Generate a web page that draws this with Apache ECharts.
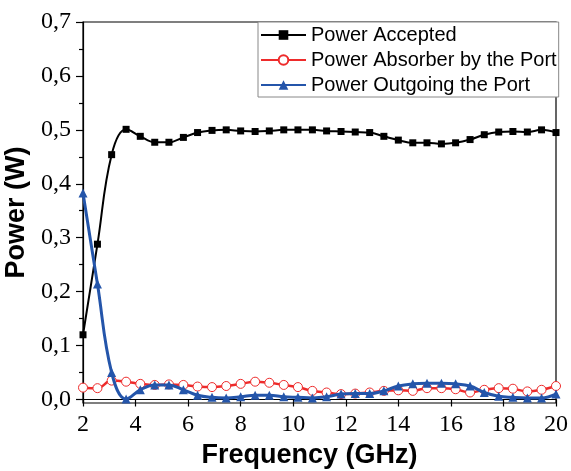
<!DOCTYPE html>
<html>
<head>
<meta charset="utf-8">
<script src="https://cdn.jsdelivr.net/npm/echarts@6/dist/echarts.min.js"></script>
<style>html,body{margin:0;padding:0;background:#fff}#c{width:571px;height:471px}</style>
</head>
<body>
<div id="c"></div>
<script>
// Frequency (GHz) sample points
const freq = [2.00, 2.55, 3.09, 3.64, 4.18, 4.73, 5.27, 5.82, 6.36, 6.91, 7.45, 8.00, 8.55, 9.09, 9.64, 10.18, 10.73,
  11.27, 11.82, 12.36, 12.91, 13.45, 14.00, 14.55, 15.09, 15.64, 16.18, 16.73, 17.27, 17.82, 18.36, 18.91, 19.45, 20.00];
const powerAccepted = [0.120, 0.288, 0.454, 0.501, 0.488, 0.477, 0.477, 0.486, 0.495, 0.499, 0.500, 0.498, 0.497, 0.498, 0.500, 0.500, 0.500,
  0.498, 0.497, 0.496, 0.495, 0.488, 0.481, 0.476, 0.476, 0.474, 0.476, 0.482, 0.491, 0.496, 0.497, 0.496, 0.500, 0.495];
const powerAbsorbed = [0.022, 0.021, 0.035, 0.033, 0.029, 0.027, 0.028, 0.027, 0.024, 0.023, 0.025, 0.029, 0.033, 0.031, 0.027, 0.023, 0.016,
  0.013, 0.010, 0.011, 0.013, 0.016, 0.017, 0.016, 0.021, 0.021, 0.019, 0.013, 0.018, 0.021, 0.020, 0.015, 0.018, 0.025];
const powerOutgoing = [0.383, 0.214, 0.050, 0.001, 0.018, 0.027, 0.027, 0.018, 0.008, 0.004, 0.003, 0.005, 0.008, 0.008, 0.005, 0.004, 0.003,
  0.005, 0.010, 0.011, 0.011, 0.016, 0.025, 0.029, 0.030, 0.030, 0.029, 0.025, 0.013, 0.006, 0.004, 0.003, 0.003, 0.010];
const seriesNames = ['Power Accepted', 'Power Absorber by the Port', 'Power Outgoing the Port'];
const yMajorTicks = [0, 0.1, 0.2, 0.3, 0.4, 0.5, 0.6, 0.7];
const yMinorTicks = [0.05, 0.15, 0.25, 0.35, 0.45, 0.55, 0.65];

const pairs = ys => freq.map((f, i) => [f, ys[i]]);
const BLUE = '#2455aa', RED = '#ee2b2b';
const serif = '"Liberation Serif", "DejaVu Serif", serif';
const sans = '"Liberation Sans", Arial, sans-serif';

const chart = echarts.init(document.getElementById('c'), null, {renderer: 'canvas'});
const yCommon = {
  type: 'value', min: -0.0065, max: 0.7, position: 'left',
  splitLine: {show: false}
};
chart.setOption({
  animation: false,
  backgroundColor: '#fff',
  grid: {left: 83, right: 15, top: 22, bottom: 68, containLabel: false, outerBoundsMode: 'none',
    show: true, borderColor: '#000', borderWidth: 1.2, backgroundColor: 'transparent'},
  legend: {
    data: seriesNames, orient: 'vertical', left: 258, top: 22,
    padding: [3, 2, 2, 2], itemGap: 5, itemWidth: 45, itemHeight: 12,
    backgroundColor: '#fff', borderColor: '#888', borderWidth: 1,
    textStyle: {fontFamily: sans, fontSize: 20, color: '#000', lineHeight: 20}
  },
  xAxis: {
    type: 'value', min: 2, max: 20, interval: 2,
    axisLine: {show: true, lineStyle: {color: '#000', width: 1.2}},
    axisTick: {show: true, inside: false, length: 7, lineStyle: {color: '#000', width: 1.2}},
    axisLabel: {fontFamily: serif, fontSize: 24, color: '#000', margin: 10},
    splitLine: {show: false},
    name: 'Frequency (GHz)', nameLocation: 'middle', nameGap: 37,
    nameTextStyle: {fontFamily: sans, fontSize: 27, fontWeight: 'bold', color: '#000', padding: [0, 20, 0, 0]}
  },
  yAxis: [
    Object.assign({}, yCommon, {
      axisLine: {show: true, lineStyle: {color: '#000', width: 1.2}},
      axisTick: {show: true, length: 7, customValues: yMajorTicks, lineStyle: {color: '#000', width: 1.2}},
      axisLabel: {customValues: yMajorTicks, fontFamily: serif, fontSize: 24, color: '#000', margin: 12,
        formatter: v => v.toFixed(1).replace('.', ',')},
      name: 'Power (W)', nameLocation: 'middle', nameGap: 51,
      nameTextStyle: {fontFamily: sans, fontSize: 27, fontWeight: 'bold', color: '#000'}
    }),
    Object.assign({}, yCommon, {
      axisLine: {show: false},
      axisTick: {show: true, length: 4, customValues: yMinorTicks, lineStyle: {color: '#000', width: 1.2}},
      axisLabel: {show: false}
    })
  ],
  series: [
    {
      name: seriesNames[0], type: 'line', data: pairs(powerAccepted), smooth: 0.4,
      symbol: 'rect', symbolSize: 7, showAllSymbol: true,
      lineStyle: {color: '#000', width: 2}, itemStyle: {color: '#000'}, z: 3
    },
    {
      name: seriesNames[1], type: 'line', data: pairs(powerAbsorbed), smooth: 0.4,
      symbol: 'circle', symbolSize: 9, showAllSymbol: true,
      lineStyle: {color: RED, width: 2.5}, itemStyle: {color: '#fff', borderColor: RED, borderWidth: 1}, z: 4
    },
    {
      name: seriesNames[2], type: 'line', data: pairs(powerOutgoing), smooth: 0.4,
      symbol: 'triangle', symbolSize: 9, showAllSymbol: true,
      lineStyle: {color: BLUE, width: 3}, itemStyle: {color: BLUE}, z: 5
    }
  ]
});
</script>
</body>
</html>
